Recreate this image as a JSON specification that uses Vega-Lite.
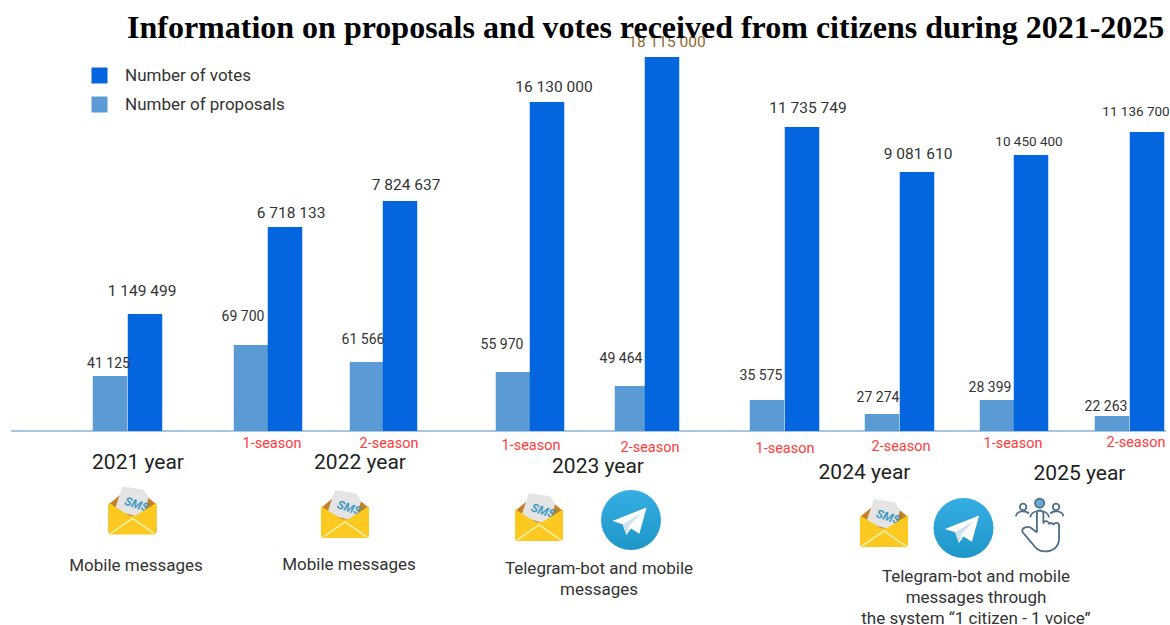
{
"$schema":"https://vega.github.io/schema/vega-lite/v6.json",
"width":1170,"height":625,"padding":0,"autosize":{"type":"none"},"background":"white",
"title":{"text":"Information on proposals and votes received from citizens during 2021-2025","font":"Liberation Serif","fontSize":32,"fontWeight":"bold","color":"#000000","anchor":"start","dx":127,"offset":-45,"limit":0,"baseline":"top"},
"config":{"view":{"stroke":null},"locale":{"number":{"decimal":".","thousands":" ","grouping":[3],"currency":["",""]}}},
"datasets":{
"bars":[
{"seq":1,"year":2021,"season":"","series":"Number of proposals","value":41125},
{"seq":1,"year":2021,"season":"","series":"Number of votes","value":1149499},
{"seq":2,"year":2022,"season":"1-season","series":"Number of proposals","value":69700},
{"seq":2,"year":2022,"season":"1-season","series":"Number of votes","value":6718133},
{"seq":3,"year":2022,"season":"2-season","series":"Number of proposals","value":61566},
{"seq":3,"year":2022,"season":"2-season","series":"Number of votes","value":7824637},
{"seq":4,"year":2023,"season":"1-season","series":"Number of proposals","value":55970},
{"seq":4,"year":2023,"season":"1-season","series":"Number of votes","value":16130000},
{"seq":5,"year":2023,"season":"2-season","series":"Number of proposals","value":49464},
{"seq":5,"year":2023,"season":"2-season","series":"Number of votes","value":18115000},
{"seq":6,"year":2024,"season":"1-season","series":"Number of proposals","value":35575},
{"seq":6,"year":2024,"season":"1-season","series":"Number of votes","value":11735749},
{"seq":7,"year":2024,"season":"2-season","series":"Number of proposals","value":27274},
{"seq":7,"year":2024,"season":"2-season","series":"Number of votes","value":9081610},
{"seq":8,"year":2025,"season":"1-season","series":"Number of proposals","value":28399},
{"seq":8,"year":2025,"season":"1-season","series":"Number of votes","value":10450400},
{"seq":9,"year":2025,"season":"2-season","series":"Number of proposals","value":22263},
{"seq":9,"year":2025,"season":"2-season","series":"Number of votes","value":11136700}
],
"years":[{"year":2021,"label":"2021 year"},{"year":2022,"label":"2022 year"},{"year":2023,"label":"2023 year"},{"year":2024,"label":"2024 year"},{"year":2025,"label":"2025 year"}],
"captions":[
{"n":1,"text":"Mobile messages"},
{"n":2,"text":"Mobile messages"},
{"n":3,"text":"Telegram-bot and mobile\nmessages"},
{"n":4,"text":"Telegram-bot and mobile\nmessages through\nthe system  “1 citizen - 1 voice”"}
],
"sms":[{"n":1},{"n":2},{"n":3},{"n":4}],
"telegram":[{"n":1},{"n":2}],
"people":[{"n":1},{"n":2}]
},
"layer":[
{"data":{"name":"bars"},"mark":{"type":"rule","color":"#a9c4e0","strokeWidth":1.5},
 "encoding":{"x":{"datum":0,"type":"quantitative","axis":null,"scale":{"domain":[0,10],"range":[11,1166],"zero":false,"nice":false}},
 "x2":{"datum":10},
 "y":{"datum":0,"type":"quantitative","axis":null,"scale":{"domain":[0,1],"range":[431,430],"zero":false,"nice":false}}}},
{"data":{"name":"bars"},"transform":[{"filter":"datum.series=='Number of proposals'"}],
 "mark":{"type":"bar","size":34.5,"orient":"vertical"},
 "encoding":{
  "x":{"field":"seq","type":"quantitative","axis":null,"scale":{"domain":[1,2,3,4,5,6,7,8,9],"range":[110,251,367,513,632,767,882,997,1112],"zero":false,"nice":false,"padding":0}},
  "y":{"field":"value","type":"quantitative","stack":null,"axis":null,"scale":{"domain":[0,22263,27274,28399,35575,41125,49464,55970,61566,69700],"range":[431,416,414,400,400,376,386,372,362,345],"nice":false}},
  "color":{"field":"series","type":"nominal","scale":{"domain":["Number of votes","Number of proposals"],"range":["#0366de","#5b9bd5"]},
   "legend":{"orient":"none","legendX":91,"legendY":67,"title":null,"symbolType":"square","symbolSize":256,"symbolStrokeWidth":0,"labelFont":"Roboto","labelFontSize":17,"labelColor":"#333333","labelOffset":17,"rowPadding":11,"labelLimit":300}}}},
{"data":{"name":"bars"},"transform":[{"filter":"datum.series=='Number of votes'"}],
 "mark":{"type":"bar","size":34.5,"orient":"vertical"},
 "encoding":{
  "x":{"field":"seq","type":"quantitative","axis":null,"scale":{"domain":[1,2,3,4,5,6,7,8,9],"range":[145,285,400,547,662,802,917,1031,1147],"zero":false,"nice":false,"padding":0}},
  "y":{"field":"value","type":"quantitative","stack":null,"axis":null,"scale":{"domain":[0,1149499,6718133,7824637,9081610,10450400,11136700,11735749,16130000,18115000],"range":[431,314,227,201,172,155,132,127,102,57],"nice":false}},
  "color":{"field":"series","type":"nominal"}}},
{"data":{"name":"bars"},"transform":[{"filter":"datum.series=='Number of proposals'"}],
 "mark":{"type":"text","font":"Roboto","fontSize":14,"color":"#333333","align":"center","baseline":"middle"},
 "encoding":{
  "x":{"field":"seq","type":"quantitative","axis":null,"scale":{"domain":[1,2,3,4,5,6,7,8,9],"range":[108.5,243,363,502,621,761,878,990,1106],"zero":false,"nice":false}},
  "y":{"field":"value","type":"quantitative","axis":null,"scale":{"domain":[22263,27274,28399,35575,41125,49464,55970,61566,69700],"range":[407,398,388,376,364,359,345,340,317],"zero":false,"nice":false}},
  "text":{"field":"value","type":"quantitative","format":",d"}}},
{"data":{"name":"bars"},"transform":[{"filter":"datum.series=='Number of votes'"}],
 "mark":{"type":"text","font":"Roboto","align":"center","baseline":"middle"},
 "encoding":{
  "x":{"field":"seq","type":"quantitative","axis":null,"scale":{"domain":[1,2,3,4,5,6,7,8,9],"range":[142,291,406,554,667,808,918,1029,1136],"zero":false,"nice":false}},
  "y":{"field":"value","type":"quantitative","axis":null,"scale":{"domain":[1149499,6718133,7824637,9081610,10450400,11136700,11735749,16130000,18115000],"range":[291,213,185,154,142,112,108,87,42],"zero":false,"nice":false}},
  "size":{"condition":{"test":"datum.value==10450400||datum.value==11136700","value":13.5},"value":15.5},
  "color":{"condition":{"test":"datum.value==18115000","value":"#8a6a30"},"value":"#333333"},
  "text":{"field":"value","type":"quantitative","format":",d"}}},
{"data":{"name":"bars"},"transform":[{"filter":"datum.series=='Number of votes'&&datum.season!=''"}],
 "mark":{"type":"text","font":"Roboto","fontSize":14.5,"color":"#ff3b3b","align":"center","baseline":"middle"},
 "encoding":{
  "x":{"field":"seq","type":"quantitative","axis":null,"scale":{"domain":[2,3,4,5,6,7,8,9],"range":[272,389,531,650,785,901,1013,1136],"zero":false,"nice":false}},
  "y":{"field":"seq","type":"quantitative","axis":null,"scale":{"domain":[2,3,4,5,6,7,8,9],"range":[444,444,446,448,449,447,444,443],"zero":false,"nice":false}},
  "text":{"field":"season"}}},
{"data":{"name":"years"},
 "mark":{"type":"text","font":"Roboto","fontSize":21,"color":"#222222","align":"center","baseline":"middle"},
 "encoding":{
  "x":{"field":"year","type":"quantitative","axis":null,"scale":{"domain":[2021,2022,2023,2024,2025],"range":[138,360,598,864.5,1079.5],"zero":false,"nice":false}},
  "y":{"field":"year","type":"quantitative","axis":null,"scale":{"domain":[2021,2022,2023,2024,2025],"range":[463,463,467,473,474],"zero":false,"nice":false}},
  "text":{"field":"label"}}},
{"data":{"name":"captions"},
 "mark":{"type":"text","font":"Roboto","fontSize":17,"color":"#333333","align":"center","baseline":"top","lineBreak":"\n","lineHeight":21},
 "encoding":{
  "x":{"field":"n","type":"quantitative","axis":null,"scale":{"domain":[1,2,3,4],"range":[136,349,599,976],"zero":false,"nice":false}},
  "y":{"field":"n","type":"quantitative","axis":null,"scale":{"domain":[1,2,3,4],"range":[558,557,561,569],"zero":false,"nice":false}},
  "text":{"field":"text"}}},
{"data":{"name":"sms"},
 "encoding":{
  "x":{"field":"n","type":"quantitative","axis":null,"scale":{"domain":[1,2,3,4],"range":[132.5,345,539,884],"zero":false,"nice":false}},
  "y":{"field":"n","type":"quantitative","axis":null,"scale":{"domain":[1,2,3,4],"range":[510.5,514,517,523],"zero":false,"nice":false}}},
 "layer":[
  {"mark":{"type":"point","filled":true,"size":2304,"opacity":1,"color":"#c5802a","shape":"M-1,-0.25 L-0.55,-0.62 L0.55,-0.62 L1,-0.25 L1,0.9 L-1,0.9 Z"}},
  {"mark":{"type":"point","filled":true,"size":2304,"opacity":1,"color":"#e4e4e4","shape":"M-0.42,-1 L0.45,-0.86 L0.68,-0.55 L0.4,0.3 L-0.75,0 Z"}},
  {"mark":{"type":"text","text":"SMS","font":"Roboto","fontSize":12,"fontStyle":"italic","fontWeight":"bold","color":"#3f9ac4","angle":18,"dx":2,"dy":-7}},
  {"mark":{"type":"point","filled":true,"size":2304,"opacity":1,"color":"#fbc91f","shape":"M-1,-0.32 L-0.12,0.22 L0.12,0.22 L1,-0.32 L1,0.88 Q1,1 0.88,1 L-0.88,1 Q-1,1 -1,0.88 Z"}},
  {"mark":{"type":"point","filled":false,"size":2304,"opacity":1,"strokeWidth":1.5,"color":"#fff2b0","shape":"M-0.9,0.95 L0,0.33 L0.9,0.95"}}
 ]},
{"data":{"name":"telegram"},
 "encoding":{
  "x":{"field":"n","type":"quantitative","axis":null,"scale":{"domain":[1,2],"range":[631,963.5],"zero":false,"nice":false}},
  "y":{"field":"n","type":"quantitative","axis":null,"scale":{"domain":[1,2],"range":[520,528],"zero":false,"nice":false}}},
 "layer":[
  {"mark":{"type":"point","filled":true,"size":3600,"opacity":1,"shape":"circle","fill":{"x1":0,"y1":0,"x2":0,"y2":1,"gradient":"linear","stops":[{"offset":0,"color":"#37aee2"},{"offset":1,"color":"#1e96c8"}]}}},
  {"mark":{"type":"point","filled":true,"size":3600,"opacity":1,"color":"#ffffff","shape":"M0.52,-0.42 L-0.62,0.03 L-0.28,0.14 L-0.15,0.5 L0,0.28 L0.28,0.46 Z"}},
  {"mark":{"type":"point","filled":true,"size":3600,"opacity":1,"color":"#cfe3ef","shape":"M-0.28,0.14 L0.38,-0.25 L-0.05,0.18 L-0.15,0.5 Z"}}
 ]},
{"data":{"name":"people"},"transform":[{"filter":"datum.n==1"}],
 "encoding":{
  "x":{"field":"n","type":"quantitative","axis":null,"scale":{"domain":[1,2],"range":[1039.6,1060],"zero":false,"nice":false}},
  "y":{"field":"n","type":"quantitative","axis":null,"scale":{"domain":[1,2],"range":[525,530],"zero":false,"nice":false}}},
 "layer":[
  {"mark":{"type":"point","filled":true,"size":2916,"opacity":1,"color":"#6fa8d0","shape":"M0.17,-0.81 A0.17,0.17 0 1 1 -0.17,-0.81 A0.17,0.17 0 1 1 0.17,-0.81 Z"}},
  {"mark":{"type":"point","filled":false,"size":2916,"opacity":1,"strokeWidth":1.8,"color":"#4d6f8a","shape":"M0.17,-0.81 A0.17,0.17 0 1 1 -0.17,-0.81 A0.17,0.17 0 1 1 0.17,-0.81 Z M-0.49,-0.67 A0.12,0.12 0 1 1 -0.73,-0.67 A0.12,0.12 0 1 1 -0.49,-0.67 Z M0.73,-0.67 A0.12,0.12 0 1 1 0.49,-0.67 A0.12,0.12 0 1 1 0.73,-0.67 Z M-0.88,-0.32 C-0.85,-0.55 -0.5,-0.55 -0.4,-0.42 M0.88,-0.32 C0.85,-0.55 0.5,-0.55 0.4,-0.42 M-0.35,-0.28 C-0.3,-0.6 0.3,-0.6 0.35,-0.28 M-0.1,0.28 L-0.1,-0.42 A0.12,0.12 0 0 1 0.14,-0.42 L0.14,-0.05 A0.1,0.1 0 0 1 0.34,-0.03 A0.1,0.1 0 0 1 0.52,0 A0.1,0.1 0 0 1 0.72,0.05 L0.72,0.5 C0.72,0.8 0.5,0.98 0.2,0.98 C-0.05,0.98 -0.15,0.85 -0.3,0.65 L-0.62,0.28 C-0.72,0.12 -0.45,0 -0.3,0.12 L-0.1,0.28"}}
 ]}
],
"resolve":{"scale":{"x":"independent","y":"independent"}}
}
